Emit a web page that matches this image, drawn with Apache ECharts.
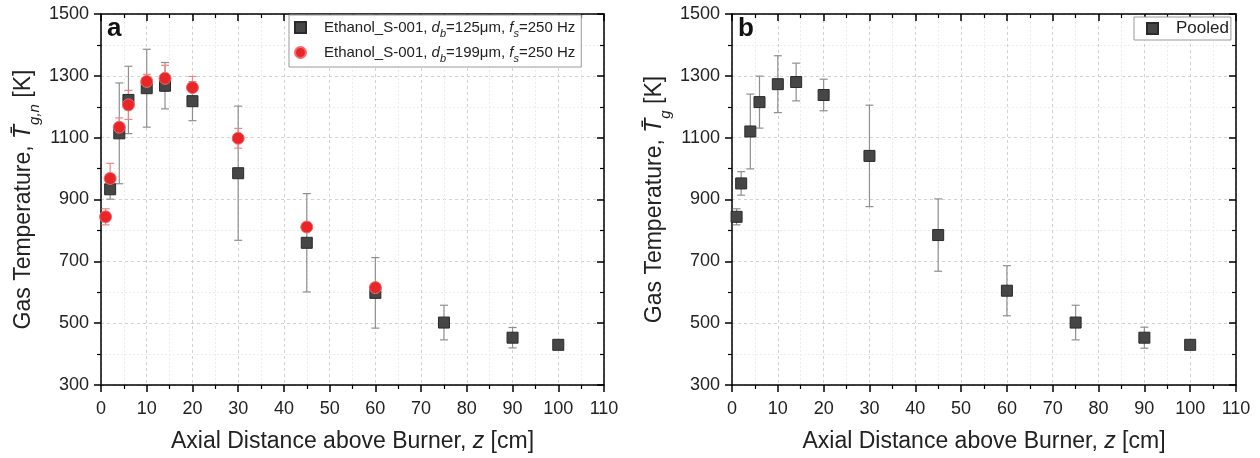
<!DOCTYPE html>
<html><head><meta charset="utf-8">
<script src="https://cdn.jsdelivr.net/npm/echarts@6/dist/echarts.min.js"></script>
<style>html,body{margin:0;padding:0;background:#fff}#c{width:1260px;height:458px}</style>
</head><body><div id="c"></div>
<script>
// ---- Data ----
// Panel a: Ethanol_S-001, d_b=125um (squares)
const zA = [2, 4, 6, 10, 14, 20, 30, 45, 60, 75, 90, 100];
const tA125 = [933, 1114, 1222, 1260, 1268, 1218, 985, 760, 598, 502, 453, 430];
const eA125 = [32, 163, 109, 126, 75, 63, 217, 159, 114, 56, 33, 0];
// Panel a: Ethanol_S-001, d_b=199um (circles)
const zA199 = [1, 2, 4, 6, 10, 14, 20, 30, 45, 60];
const tA199 = [844, 968, 1134, 1206, 1282, 1292, 1262, 1098, 811, 615];
const eA199 = [26, 49, 30, 47, 23, 42, 36, 32, 14, 10];
// Panel b: Pooled
const zB = [1, 2, 4, 6, 10, 14, 20, 30, 45, 60, 75, 90, 100];
const tB = [844, 952, 1120, 1215, 1273, 1280, 1238, 1041, 785, 605, 502, 453, 430];
const eB = [26, 38, 121, 84, 92, 61, 51, 164, 117, 81, 56, 34, 0];
// Axes
const xMin = 0, xMax = 110, xStep = 10;
const yMin = 300, yMax = 1500, yStep = 200;

const FONT = 'Liberation Sans';
const TITLE_SIZE = 23;
const chart = echarts.init(document.getElementById('c'), null, {renderer: 'canvas'});

function xAxesFor(g) {
  return [{
    gridIndex: g, type: 'value', position: 'bottom', min: xMin, max: xMax, interval: xStep,
    name: 'Axial Distance above Burner, {i|z} [cm]', nameLocation: 'middle', nameGap: 45,
    nameTextStyle: {fontFamily: FONT, fontSize: TITLE_SIZE, color: '#222',
      rich: {i: {fontFamily: FONT, fontSize: TITLE_SIZE, fontStyle: 'italic', color: '#222'}}},
    axisLine: {show: true, onZero: false, lineStyle: {color: '#000', width: 1.5}},
    axisTick: {show: true, inside: false, length: 7, lineStyle: {color: '#000', width: 1.5}},
    minorTick: {show: true, splitNumber: 2, length: 4, lineStyle: {color: '#000', width: 1.2}},
    axisLabel: {fontFamily: FONT, fontSize: 18, color: '#222', margin: 15, formatter: v => String(v)},
    splitLine: {show: true, lineStyle: {color: '#d2d2d2', type: [3, 3], width: 1}},
    minorSplitLine: {show: true, lineStyle: {color: '#ededed', type: [2, 2], width: 1}}
  }, {
    gridIndex: g, type: 'value', position: 'top', min: xMin, max: xMax, interval: xStep,
    axisLine: {show: true, onZero: false, lineStyle: {color: '#000', width: 1.5}},
    axisTick: {show: true, inside: true, length: 7, lineStyle: {color: '#000', width: 1.5}},
    minorTick: {show: true, splitNumber: 2, length: 4, lineStyle: {color: '#000', width: 1.2}},
    axisLabel: {show: false}, splitLine: {show: false}
  }];
}
function yAxesFor(g, nameRich) {
  return [{
    gridIndex: g, type: 'value', position: 'left', min: yMin, max: yMax, interval: yStep,
    name: nameRich, nameLocation: 'middle', nameGap: 63, nameRotate: 90,
    nameTextStyle: {fontFamily: FONT, fontSize: TITLE_SIZE, color: '#222', lineHeight: 28,
      rich: {
        n: {fontFamily: FONT, fontSize: TITLE_SIZE, color: '#222', lineHeight: 28},
        i: {fontFamily: FONT, fontSize: TITLE_SIZE, fontStyle: 'italic', color: '#222', lineHeight: 28},
        s: {fontFamily: FONT, fontSize: 15, fontStyle: 'italic', color: '#222', verticalAlign: 'bottom', lineHeight: 28, padding: [0, 0, -4, 0]}
      }},
    axisLine: {show: true, onZero: false, lineStyle: {color: '#000', width: 1.5}},
    axisTick: {show: true, inside: false, length: 7, lineStyle: {color: '#000', width: 1.5}},
    minorTick: {show: true, splitNumber: 2, length: 4, lineStyle: {color: '#000', width: 1.2}},
    axisLabel: {fontFamily: FONT, fontSize: 18, color: '#222', margin: 12, formatter: v => String(v)},
    splitLine: {show: true, lineStyle: {color: '#d2d2d2', type: [3, 3], width: 1}},
    minorSplitLine: {show: true, lineStyle: {color: '#ededed', type: [2, 2], width: 1}}
  }, {
    gridIndex: g, type: 'value', position: 'right', min: yMin, max: yMax, interval: yStep,
    axisLine: {show: true, onZero: false, lineStyle: {color: '#000', width: 1.5}},
    axisTick: {show: true, inside: true, length: 7, lineStyle: {color: '#000', width: 1.5}},
    minorTick: {show: true, splitNumber: 2, length: 4, lineStyle: {color: '#000', width: 1.2}},
    axisLabel: {show: false}, splitLine: {show: false}
  }];
}

function errData(z, t, e) {
  const out = [];
  z.forEach((v, i) => { if (e[i] > 0) out.push([v, t[i] - e[i], t[i] + e[i]]); });
  return out;
}
function errRender(color) {
  return function (params, api) {
    const x = api.value(0), lo = api.value(1), hi = api.value(2);
    const p1 = api.coord([x, hi]), p2 = api.coord([x, lo]);
    const w = 4;
    const style = {stroke: color, lineWidth: 1.2};
    return {type: 'group', children: [
      {type: 'line', shape: {x1: p1[0], y1: p1[1], x2: p2[0], y2: p2[1]}, style: style},
      {type: 'line', shape: {x1: p1[0] - w, y1: p1[1], x2: p1[0] + w, y2: p1[1]}, style: style},
      {type: 'line', shape: {x1: p2[0] - w, y1: p2[1], x2: p2[0] + w, y2: p2[1]}, style: style}
    ]};
  };
}
const pairs = (z, t) => z.map((v, i) => [v, t[i]]);

const NAME125 = 'Ethanol_S-001, d_b=125um';
const NAME199 = 'Ethanol_S-001, d_b=199um';
const legendRich = {
  n: {fontFamily: FONT, fontSize: 15, color: '#222'},
  i: {fontFamily: FONT, fontSize: 15, fontStyle: 'italic', color: '#222'},
  s: {fontFamily: FONT, fontSize: 11, fontStyle: 'italic', color: '#222', verticalAlign: 'bottom', padding: [0, 0, -4, 0]}
};

const option = {
  backgroundColor: '#fff',
  animation: false,
  grid: [
    {left: 101, right: 656, top: 14, bottom: 73, containLabel: false},
    {left: 732, right: 24, top: 14, bottom: 73, containLabel: false}
  ],
  xAxis: [...xAxesFor(0), ...xAxesFor(1)],
  yAxis: [
    ...yAxesFor(0, '{n|Gas Temperature, }{i|T\u0304}{s|g,n}{n| [K]}'),
    ...yAxesFor(1, '{n|Gas Temperature, }{i|T\u0304}{s|g}{n| [K]}')
  ],
  legend: [{
    data: [NAME125, NAME199], orient: 'vertical', left: 289, top: 15,
    itemWidth: 11, itemHeight: 11, itemGap: 6,
    padding: [5, 6, 3, 5], borderColor: '#999', borderWidth: 1, backgroundColor: '#fff',
    formatter: function (name) {
      const d = name === NAME125 ? '125' : '199';
      return '{n|Ethanol_S-001, }{i|d}{s|b}{n|=' + d + '\u03bcm, }{i|f}{s|s}{n|=250 Hz}';
    },
    textStyle: {fontFamily: FONT, fontSize: 15, color: '#222', padding: [0, 0, 0, 13], rich: legendRich}
  }, {
    data: ['Pooled'], orient: 'vertical', left: 1134, top: 17,
    itemWidth: 11, itemHeight: 11, padding: [3, 2, 3, 12],
    borderColor: '#999', borderWidth: 1, backgroundColor: '#fff',
    textStyle: {fontFamily: FONT, fontSize: 17, color: '#222', padding: [0, 0, 0, 13]}
  }],
  graphic: [
    {type: 'text', left: 107, top: 16, style: {text: 'a', font: 'bold 26px "Liberation Sans"', fill: '#111'}},
    {type: 'text', left: 738, top: 16, style: {text: 'b', font: 'bold 26px "Liberation Sans"', fill: '#111'}}
  ],
  series: [
    {type: 'custom', name: 'err125', xAxisIndex: 0, yAxisIndex: 0, renderItem: errRender('#8f8f8f'),
      encode: {x: 0, y: [1, 2]}, data: errData(zA, tA125, eA125), z: 2, silent: true},
    {type: 'custom', name: 'err199', xAxisIndex: 0, yAxisIndex: 0, renderItem: errRender('#f08585'),
      encode: {x: 0, y: [1, 2]}, data: errData(zA199, tA199, eA199), z: 3, silent: true},
    {type: 'scatter', name: NAME125, xAxisIndex: 0, yAxisIndex: 0, symbol: 'rect', symbolSize: 11,
      itemStyle: {color: '#464646', borderColor: '#2a2a2a', borderWidth: 1, opacity: 1},
      data: pairs(zA, tA125), z: 4},
    {type: 'scatter', name: NAME199, xAxisIndex: 0, yAxisIndex: 0, symbol: 'circle', symbolSize: 12,
      itemStyle: {color: '#e8262a', borderColor: '#f36a6a', borderWidth: 1, opacity: 1},
      data: pairs(zA199, tA199), z: 5},
    {type: 'custom', name: 'errPooled', xAxisIndex: 2, yAxisIndex: 2, renderItem: errRender('#8f8f8f'),
      encode: {x: 0, y: [1, 2]}, data: errData(zB, tB, eB), z: 2, silent: true},
    {type: 'scatter', name: 'Pooled', xAxisIndex: 2, yAxisIndex: 2, symbol: 'rect', symbolSize: 11,
      itemStyle: {color: '#464646', borderColor: '#2a2a2a', borderWidth: 1, opacity: 1},
      data: pairs(zB, tB), z: 4}
  ]
};
chart.setOption(option);
</script></body></html>
